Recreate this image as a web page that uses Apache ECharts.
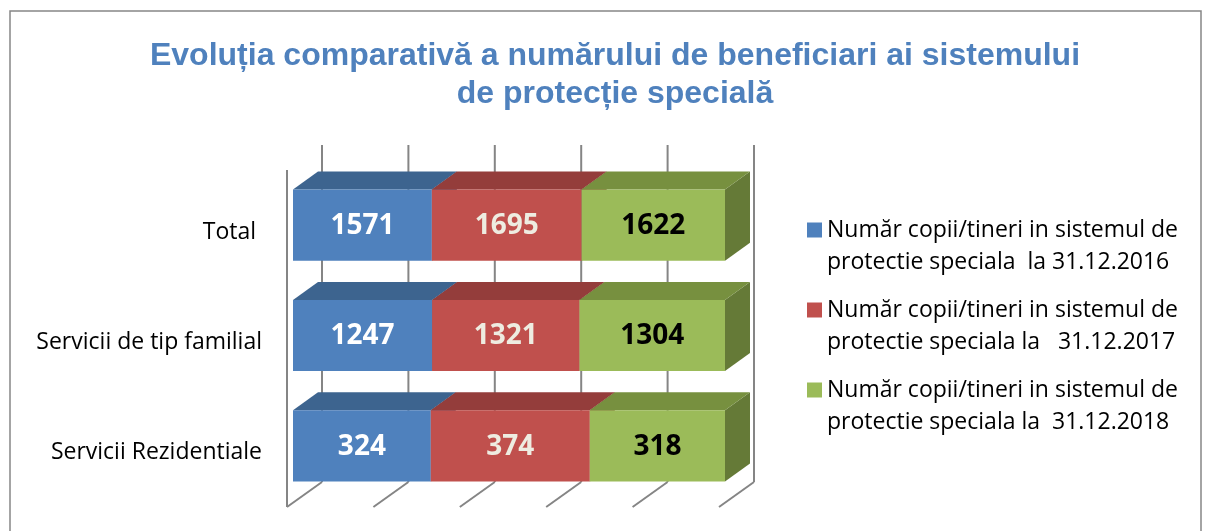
<!DOCTYPE html>
<html>
<head>
<meta charset="utf-8">
<script src="https://cdn.jsdelivr.net/npm/echarts@6/dist/echarts.min.js"></script>
<style>
  html, body { margin: 0; padding: 0; background: #fff; }
  #chart { width: 1205px; height: 531px; }
</style>
</head>
<body>
<div id="chart"></div>
<script>
const categories = ['Total', 'Servicii de tip familial', 'Servicii Rezidentiale']
const seriesNames = [
  'Număr copii/tineri in sistemul de\nprotectie speciala  la 31.12.2016',
  'Număr copii/tineri in sistemul de\nprotectie speciala la   31.12.2017',
  'Număr copii/tineri in sistemul de\nprotectie speciala la  31.12.2018'
]
const values2016 = [1571, 1247, 324]
const values2017 = [1695, 1321, 374]
const values2018 = [1622, 1304, 318]
const axisTicks = [0, 20, 40, 60, 80, 100]

const yearValues = [values2016, values2017, values2018]
const frontColors = ['#4F81BD', '#C0504D', '#9BBB59']
const topColors = ['#3D648F', '#943D3B', '#77903F']
const sideColors = ['#36587F', '#7F3432', '#657A37']
const labelColors = ['#ffffff', '#EEECE1', '#000000']

// 3d depth of the bars, in pixels
const DX = 25
const DY = -18

// stacked percentages per category
const totals = categories.map((c, i) => yearValues.reduce((s, arr) => s + arr[i], 0))

const chart = echarts.init(document.getElementById('chart'))

const barSeries = yearValues.map((arr, si) => {
  const data = arr.map((v, ci) => {
    let before = 0
    for (let k = 0; k < si; k++) before += yearValues[k][ci]
    return [before / totals[ci] * 100, (before + v) / totals[ci] * 100, ci, v]
  })
  return {
    name: seriesNames[si],
    type: 'custom',
    coordinateSystem: 'cartesian2d',
    itemStyle: { color: frontColors[si] },
    encode: { x: [0, 1], y: 2 },
    z: 3,
    data: data,
    renderItem(params, api) {
      const p0 = api.coord([api.value(0), api.value(2)])
      const p1 = api.coord([api.value(1), api.value(2)])
      const h = api.size([0, 1])[1] * 0.645
      const x0 = p0[0]
      const x1 = p1[0]
      const yt = p0[1] - h / 2
      const yb = p0[1] + h / 2
      return {
        type: 'group',
        children: [
          {
            type: 'polygon',
            shape: { points: [[x1, yt], [x1 + DX, yt + DY], [x1 + DX, yb + DY], [x1, yb]] },
            style: { fill: sideColors[si] }
          },
          {
            type: 'polygon',
            shape: { points: [[x0, yt], [x1, yt], [x1 + DX, yt + DY], [x0 + DX, yt + DY]] },
            style: { fill: topColors[si] }
          },
          {
            type: 'rect',
            shape: { x: x0, y: yt, width: x1 - x0, height: h },
            style: { fill: frontColors[si] }
          },
          {
            type: 'text',
            style: {
              text: String(api.value(3)),
              x: (x0 + x1) / 2,
              y: p0[1] + 1,
              textAlign: 'center',
              textVerticalAlign: 'middle',
              fill: labelColors[si],
              font: 'bold 28px "Open Sans"'
            }
          }
        ]
      }
    }
  }
})

// back wall + floor lines
const wallSeries = {
  name: 'wall',
  type: 'custom',
  coordinateSystem: 'cartesian2d',
  silent: true,
  z: 1,
  encode: { x: 0, y: 1 },
  data: axisTicks.map(t => [t, 0]),
  renderItem(params, api) {
    const x = api.coord([api.value(0), 0])[0]
    const cs = params.coordSys
    const floorY = cs.y + cs.height + 6
    const lines = [
      [[x - 6, floorY], [x + 29, floorY - 25]],
      [[x + 29, floorY - 25], [x + 29, cs.y - 25]]
    ]
    if (api.value(0) === axisTicks[0]) lines.push([[x - 6, floorY], [x - 6, cs.y]])
    return {
      type: 'group',
      children: lines.map(l => ({
        type: 'line',
        shape: { x1: l[0][0], y1: l[0][1], x2: l[1][0], y2: l[1][1] },
        style: { stroke: '#858585', lineWidth: 2 }
      }))
    }
  }
}

chart.setOption({
  backgroundColor: '#ffffff',
  animation: false,
  graphic: [{
    type: 'rect',
    shape: { x: 10, y: 11, width: 1191, height: 540 },
    style: { fill: 'none', stroke: '#868686', lineWidth: 1.5 }
  }],
  title: {
    text: 'Evoluția comparativă a numărului de beneficiari ai sistemului\nde protecție specială',
    left: 610,
    top: 32,
    textAlign: 'center',
    textStyle: {
      color: '#4F81BD',
      fontFamily: 'Liberation Sans',
      fontWeight: 'bold',
      fontSize: 32,
      lineHeight: 38
    }
  },
  legend: {
    orient: 'vertical',
    left: 807,
    top: 182,
    padding: 0,
    itemWidth: 15,
    itemHeight: 15,
    itemGap: -16,
    icon: 'rect',
    data: seriesNames,
    // empty first line so the marker sits beside the first text line
    formatter: name => '\n' + name,
    textStyle: {
      fontFamily: 'Open Sans',
      fontSize: 23,
      lineHeight: 32,
      color: '#000'
    }
  },
  grid: {
    left: 293,
    width: 432,
    top: 170,
    bottom: 30
  },
  xAxis: {
    type: 'value',
    min: 0,
    max: 100,
    interval: 20,
    axisLine: { show: false },
    axisTick: { show: false },
    axisLabel: { show: false },
    splitLine: { show: false }
  },
  yAxis: {
    type: 'category',
    data: categories,
    inverse: true,
    axisLine: { show: false },
    axisTick: { show: false },
    axisLabel: {
      margin: 31,
      formatter: v => '{c|' + v + (v === 'Total' ? ' ' : '') + '}',
      rich: {
        c: {
          fontFamily: 'Open Sans',
          fontSize: 23,
          color: '#000',
          padding: [14, 0, 0, 0]
        }
      }
    }
  },
  series: [wallSeries].concat(barSeries)
})
</script>
</body>
</html>
